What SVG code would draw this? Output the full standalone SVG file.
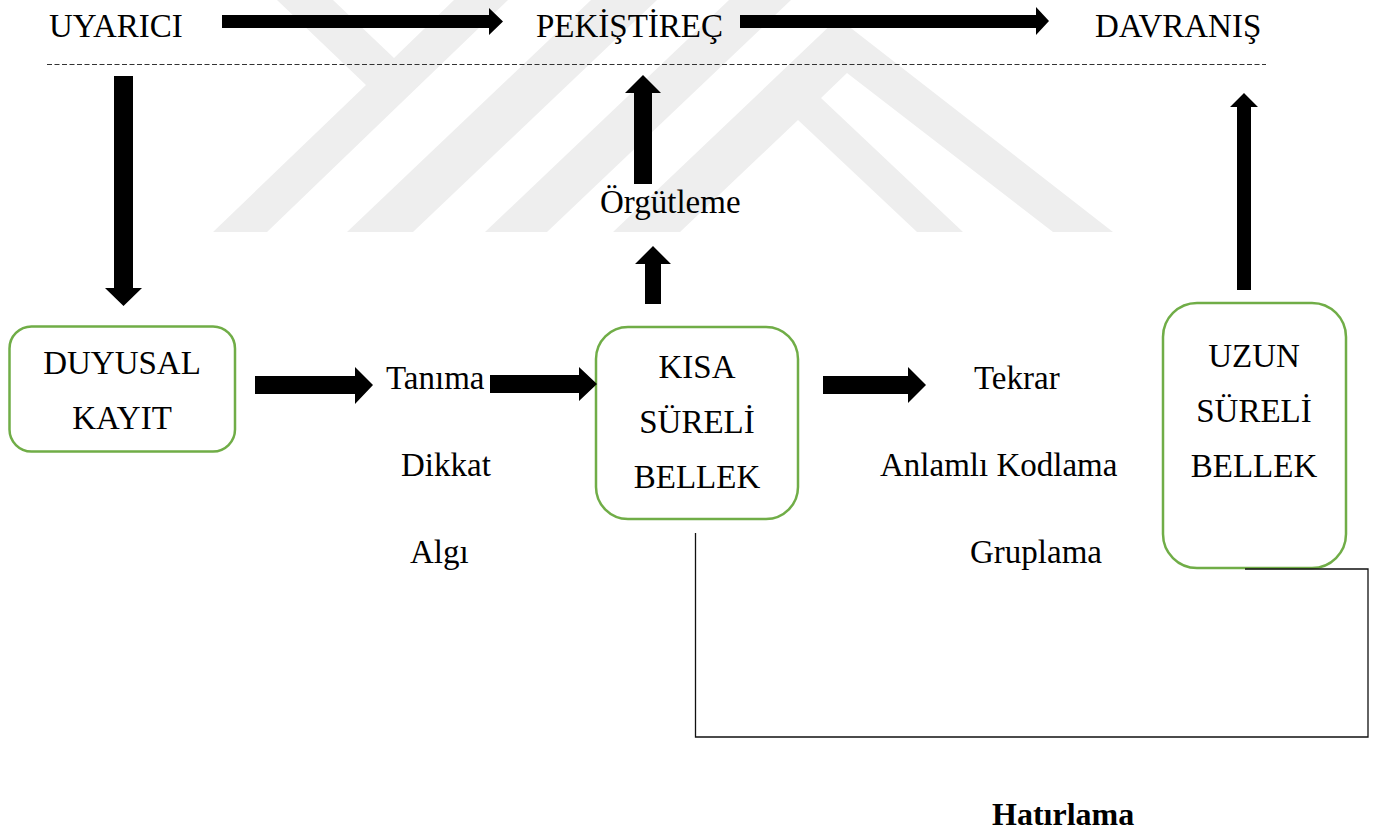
<svg xmlns="http://www.w3.org/2000/svg" width="1376" height="832" viewBox="0 0 1376 832">
<defs>
<style>
.t{font-family:"Liberation Serif","Times New Roman",serif;font-size:33px;fill:#000}
.b{font-weight:bold;font-size:32px}
.m{text-anchor:middle}
.box{fill:none;stroke:#70AD47;stroke-width:2.5}
.arr{fill:#000;stroke:none}
.wm{fill:#eeeeee;stroke:none}
.ln{fill:none;stroke:#111;stroke-width:1.3}
.dash{fill:none;stroke:#333;stroke-width:1;stroke-dasharray:5 2.5}
</style>
</defs>
<rect width="1376" height="832" fill="#fff"/>
<g id="watermark">
<polygon class="wm" points="213,232 366,85 277,0 333,0 394,58 454,0 508,0 267,232"/>
<polygon class="wm" points="347,232 591,0 657,0 413,232"/>
<polygon class="wm" points="485,232 729,0 791,0 547,232"/>
<polygon class="wm" points="613,232 838,18 1113,232 1053,232 847,73 821,98 963,232 917,232 798,120 680,232"/>
</g>
<g id="separator">
<line class="dash" x1="47" y1="64.5" x2="1266" y2="64.5"/>
</g>
<g id="uyarici"><text class="t" x="49" y="37">UYARICI</text></g>
<g id="pekistirec"><text class="t" x="536" y="37">PEKİŞTİREÇ</text></g>
<g id="davranis"><text class="t" x="1095" y="37">DAVRANIŞ</text></g>
<g id="orgutleme"><text class="t" x="600" y="213">Örgütleme</text></g>
<g id="duyusal">
<rect class="box" x="9.5" y="326.5" width="225.5" height="125" rx="22"/>
<text class="t m" x="122" y="374">DUYUSAL</text>
<text class="t m" x="122" y="429">KAYIT</text>
</g>
<g id="kisa">
<rect class="box" x="596" y="327" width="202" height="192" rx="32"/>
<text class="t m" x="697" y="378">KISA</text>
<text class="t m" x="697" y="433">SÜRELİ</text>
<text class="t m" x="697" y="488">BELLEK</text>
</g>
<g id="uzun">
<rect class="box" x="1163" y="303" width="183" height="265" rx="34"/>
<text class="t m" x="1254" y="367">UZUN</text>
<text class="t m" x="1254" y="422">SÜRELİ</text>
<text class="t m" x="1254" y="477">BELLEK</text>
</g>
<g id="surecler1">
<text class="t" x="386" y="389">Tanıma</text>
<text class="t" x="401" y="476">Dikkat</text>
<text class="t" x="410" y="563">Algı</text>
</g>
<g id="surecler2">
<text class="t" x="974" y="389">Tekrar</text>
<text class="t" x="880" y="476">Anlamlı Kodlama</text>
<text class="t" x="970" y="563">Gruplama</text>
</g>
<g id="hatirlama"><text class="t b" x="992" y="825">Hatırlama</text></g>
<g id="connectors">
<polygon class="arr" points="222,15 489,15 489,8 503,21.5 489,35 489,28 222,28"/>
<polygon class="arr" points="740,15 1036,15 1036,7 1049,21 1036,35 1036,28 740,28"/>
<polygon class="arr" points="114,76 133,76 133,288 142,288 123.5,306 105,288 114,288"/>
<polygon class="arr" points="634,184 634,93 625,93 643,75 661,93 652,93 652,184"/>
<polygon class="arr" points="645,304 645,264 635,264 653,246 671,264 661,264 661,304"/>
<polygon class="arr" points="1237,290 1237,107 1230,107 1244,93 1258,107 1251,107 1251,290"/>
<polygon class="arr" points="255,376 355,376 355,367 373,385 355,404 355,394 255,394"/>
<polygon class="arr" points="490,375 579,375 579,367 597,384 579,401 579,393 490,393"/>
<polygon class="arr" points="823,376 908,376 908,367 926,385 908,403 908,394 823,394"/>
<path class="ln" d="M695.5 533 V737 H1368 V569 H1245"/>
</g>
</svg>
